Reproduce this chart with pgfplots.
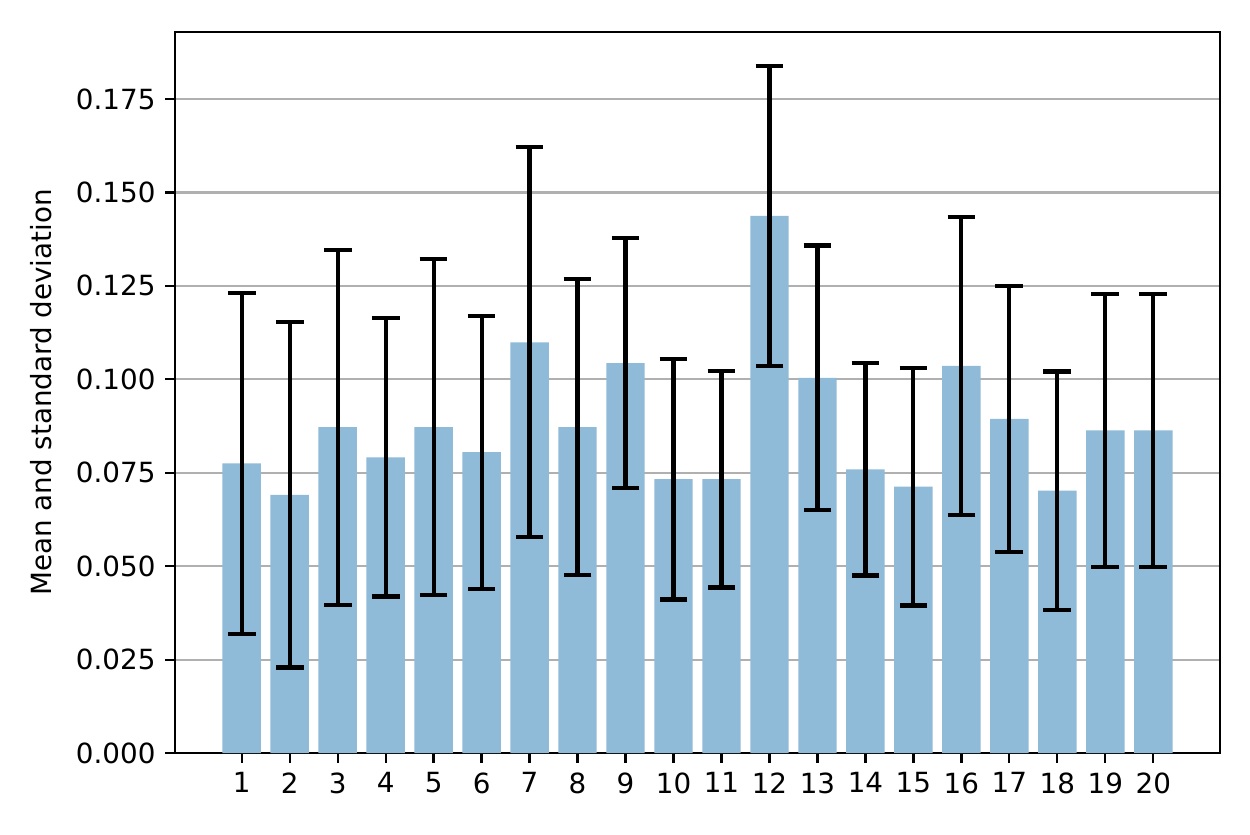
\documentclass[border=0pt]{standalone}
\usepackage{fontspec}
\setmainfont{DejaVu Sans}
\usepackage{pgfplots}
\pgfplotsset{compat=1.18}
\definecolor{barblue}{RGB}{143,187,217}
\definecolor{gridgray}{RGB}{176,176,176}
\begin{document}
\begin{tikzpicture}
\path[use as bounding box] (-63pt,-29.2pt) rectangle (387pt,271.1pt);
\begin{axis}[
  at={(0,0)}, anchor=south west,
  scale only axis,
  width=376.2pt, height=259.56pt,
  xmin=-0.39, xmax=21.39,
  ymin=0, ymax=0.1929,
  xtick={1,...,20},
  ytick={0,0.025,0.05,0.075,0.1,0.125,0.15,0.175},
  yticklabel style={/pgf/number format/.cd, fixed, fixed zerofill, precision=3},
  /pgf/number format/assume math mode=true,
  scaled y ticks=false,
  tick align=outside,
  tick pos=left,
  major tick length=3.5pt,
  tick style={black, line width=0.8pt},
  axis line style={black, line width=0.8pt},
  ymajorgrids=true,
  grid style={gridgray, line width=0.8pt},
  ticklabel style={font=\fontsize{10}{12}\selectfont},
  ylabel={Mean and standard deviation},
  ylabel style={font=\fontsize{10.45}{12}\selectfont},
  every axis y label/.style={at={(ticklabel cs:0.5,1.9pt)}, rotate=90, anchor=near ticklabel},
]
\addplot[ybar, bar width=0.8, fill=barblue, draw=none,
  error bars/.cd, y dir=both, y explicit,
  error bar style={black, line width=1.5pt},
  error mark options={rotate=90, black, line width=1.5pt, mark size=5pt}]
coordinates {
(1,0.0775) +- (0,0.0456)
(2,0.0691) +- (0,0.0462)
(3,0.0872) +- (0,0.0475)
(4,0.0791) +- (0,0.0372)
(5,0.0872) +- (0,0.0449)
(6,0.0805) +- (0,0.0365)
(7,0.1099) +- (0,0.0522)
(8,0.0872) +- (0,0.0396)
(9,0.1043) +- (0,0.0334)
(10,0.0733) +- (0,0.0322)
(11,0.0733) +- (0,0.0290)
(12,0.1437) +- (0,0.0402)
(13,0.1004) +- (0,0.0354)
(14,0.0759) +- (0,0.0284)
(15,0.0713) +- (0,0.0318)
(16,0.1036) +- (0,0.0398)
(17,0.0894) +- (0,0.0355)
(18,0.0702) +- (0,0.0319)
(19,0.0863) +- (0,0.0365)
(20,0.0863) +- (0,0.0365)
};
\end{axis}
\end{tikzpicture}
\end{document}
